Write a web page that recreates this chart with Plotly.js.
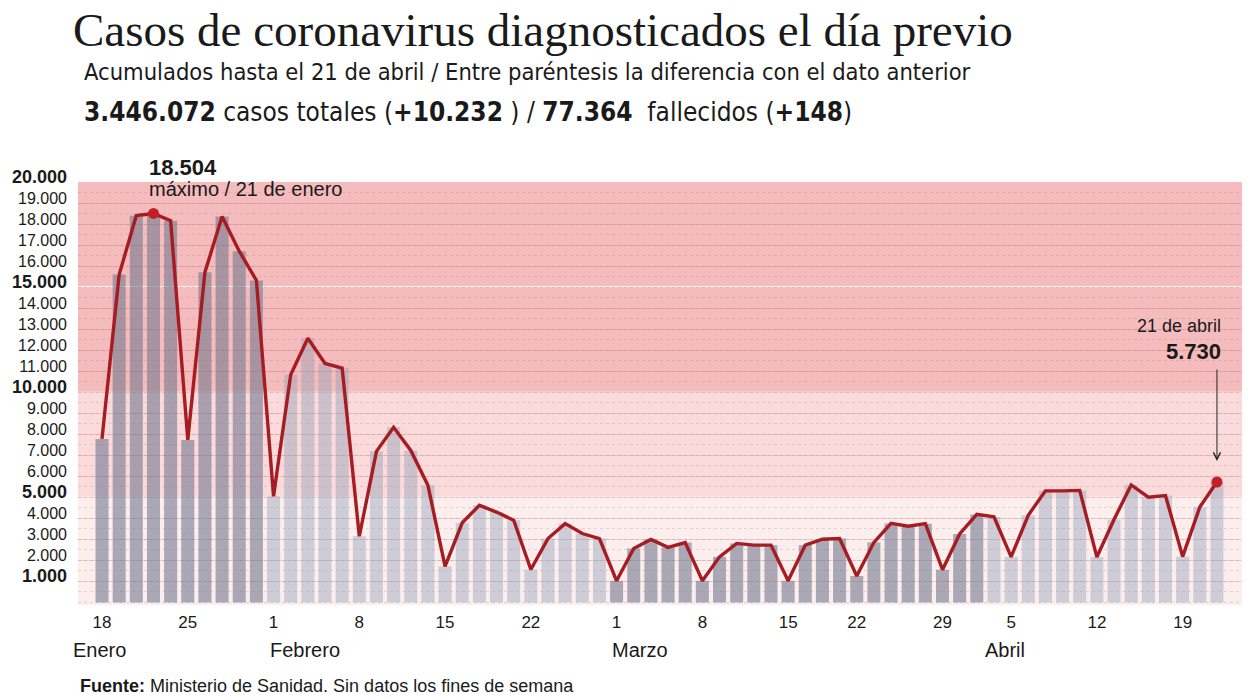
<!DOCTYPE html>
<html>
<head>
<meta charset="utf-8">
<script src="https://cdn.plot.ly/plotly-3.0.1.min.js"></script>
<style>
  html, body { margin: 0; padding: 0; background: #ffffff; }
  #chart { width: 1248px; height: 698px; }
</style>
</head>
<body>
<div id="chart"></div>
<script>
// ---- data (weekdays with data; no data on weekends / some holidays) ----
const monthNames = ['Enero', 'Febrero', 'Marzo', 'Abril'];
const daysJan = [18, 19, 20, 21, 22, 25, 26, 27, 28, 29];
const casesJan = [7780, 15600, 18400, 18504, 18160, 7730, 15710, 18360, 16710, 15320];
const daysFeb = [1, 2, 3, 4, 5, 8, 9, 10, 11, 12, 15, 16, 17, 18, 19, 22, 23, 24, 25, 26];
const casesFeb = [5050, 10830, 12570, 11370, 11150, 3150, 7190, 8330, 7230, 5570, 1720, 3790, 4620, 4300, 3910, 1570, 3040, 3750, 3280, 3040];
const daysMar = [1, 2, 3, 4, 5, 8, 9, 10, 11, 12, 15, 16, 17, 18, 22, 23, 24, 25, 26, 29, 30, 31];
const casesMar = [1030, 2570, 3000, 2620, 2850, 1030, 2170, 2810, 2730, 2730, 1030, 2730, 3010, 3040, 1260, 2860, 3760, 3630, 3750, 1560, 3260, 4190];
const daysApr = [1, 5, 6, 7, 8, 9, 12, 13, 14, 15, 16, 19, 20, 21];
const casesApr = [4070, 2170, 4150, 5310, 5310, 5330, 2160, 3950, 5590, 5010, 5090, 2180, 4540, 5730];

const yTickVals = [1000, 2000, 3000, 4000, 5000, 6000, 7000, 8000, 9000, 10000, 11000, 12000, 13000, 14000, 15000, 16000, 17000, 18000, 19000, 20000];
const yTickLabels = ['1.000', '2.000', '3.000', '4.000', '5.000', '6.000', '7.000', '8.000', '9.000', '10.000', '11.000', '12.000', '13.000', '14.000', '15.000', '16.000', '17.000', '18.000', '19.000', '20.000'];
const yBoldTicks = [1000, 5000, 10000, 15000, 20000];

const titleText = 'Casos de coronavirus diagnosticados el día previo';
const subtitleText = 'Acumulados hasta el 21 de abril / Entre paréntesis la diferencia con el dato anterior';
const totalsText = '<b>3.446.072</b> casos totales (<b>+10.232</b> ) / <b>77.364</b>  fallecidos (<b>+148</b>)';
const sourceText = '<b>Fuente:</b> Ministerio de Sanidad. Sin datos los fines de semana';

// ---- build categories ----
const monthDays = [daysJan, daysFeb, daysMar, daysApr];
const monthCases = [casesJan, casesFeb, casesMar, casesApr];
const cats = [], vals = [], monthIdx = [];
monthDays.forEach((days, m) => {
  days.forEach((d, i) => {
    cats.push(d + '/' + (m + 1));
    vals.push(monthCases[m][i]);
    monthIdx.push(m);
  });
});
// Monday ticks
const tickCats = [], tickText = [];
const weekStarts = [[18, 25], [1, 8, 15, 22], [1, 8, 15, 22, 29], [5, 12, 19]];
weekStarts.forEach((list, m) => {
  list.forEach(d => { tickCats.push(d + '/' + (m + 1)); tickText.push(String(d)); });
});

const barColors = monthIdx.map(m => (m % 2 === 0) ? 'rgba(112,118,142,0.58)' : 'rgba(140,158,180,0.42)');

let maxI = 0;
vals.forEach((v, i) => { if (v > vals[maxI]) maxI = i; });
const lastI = vals.length - 1;

const yTickText = yTickVals.map((v, i) => yBoldTicks.includes(v)
  ? '<span style="font-size:18px"><b>' + yTickLabels[i] + '</b></span>'
  : yTickLabels[i]);

const traces = [
  {
    type: 'bar', x: cats, y: vals,
    marker: {color: barColors, line: {width: 0}},
    hoverinfo: 'skip'
  },
  {
    type: 'scatter', mode: 'lines', x: cats, y: vals,
    line: {color: '#a51d22', width: 3.4, shape: 'linear'},
    hoverinfo: 'skip'
  },
  {
    type: 'scatter', mode: 'markers',
    x: [cats[maxI], cats[lastI]], y: [vals[maxI], vals[lastI]],
    marker: {color: '#c41f26', size: 11},
    hoverinfo: 'skip'
  }
];

const PT = 182, PB = 605, PH = PB - PT;  // plot top / bottom in pixels
const py = p => (PB - p) / PH;           // pixel y -> paper y

const shapes = [
  {type: 'rect', xref: 'paper', yref: 'y', x0: 0, x1: 1, y0: -120, y1: 5000, fillcolor: '#fdeeee', line: {width: 0}, layer: 'below'},
  {type: 'rect', xref: 'paper', yref: 'y', x0: 0, x1: 1, y0: 5000, y1: 10000, fillcolor: '#fadadb', line: {width: 0}, layer: 'below'},
  {type: 'rect', xref: 'paper', yref: 'y', x0: 0, x1: 1, y0: 10000, y1: 20000, fillcolor: '#f5bcbd', line: {width: 0}, layer: 'below'},
  {type: 'line', xref: 'paper', yref: 'y', x0: 0, x1: 1, y0: 15000, y1: 15000, line: {color: '#ffffff', width: 1.5}, layer: 'between'},
  {type: 'line', xref: 'paper', yref: 'y', x0: 0, x1: 1, y0: 10000, y1: 10000, line: {color: '#ffffff', width: 1.2}, layer: 'between'},
  {type: 'line', xref: 'paper', yref: 'y', x0: 0, x1: 1, y0: 5000, y1: 5000, line: {color: '#ffffff', width: 1.2}, layer: 'between'}
];

const sans = 'Liberation Sans, Arial, sans-serif';
const narrow = 'DejaVu Sans Condensed, Liberation Sans Narrow, sans-serif';
const annotations = [
  {xref: 'paper', yref: 'paper', x: 4 / 1164, y: py(72), xanchor: 'left', yanchor: 'middle', showarrow: false,
   text: subtitleText, font: {family: narrow, size: 23.5, color: '#1a1a1a'}},
  {xref: 'paper', yref: 'paper', x: 4 / 1164, y: py(112), xanchor: 'left', yanchor: 'middle', showarrow: false,
   text: totalsText, font: {family: narrow, size: 26, color: '#1a1a1a'}},
  {xref: 'x', yref: 'paper', x: cats[maxI], xshift: -6, y: py(168), xanchor: 'left', yanchor: 'middle', showarrow: false,
   text: '<b>18.504</b>', font: {family: sans, size: 22, color: '#1a1a1a'}},
  {xref: 'x', yref: 'paper', x: cats[maxI], xshift: -6, y: py(189), xanchor: 'left', yanchor: 'middle', showarrow: false,
   text: 'máximo / 21 de enero', font: {family: sans, size: 20, color: '#1a1a1a'}},
  {xref: 'x', yref: 'paper', x: cats[lastI], xshift: 6, y: py(326), xanchor: 'right', yanchor: 'middle', showarrow: false,
   text: '21 de abril', font: {family: sans, size: 18, color: '#1a1a1a'}},
  {xref: 'x', yref: 'paper', x: cats[lastI], xshift: 6, y: py(351), xanchor: 'right', yanchor: 'middle', showarrow: false,
   text: '<b>5.730</b>', font: {family: sans, size: 22, color: '#1a1a1a'}},
  {xref: 'x', yref: 'paper', x: cats[lastI], y: py(461), text: '', showarrow: true,
   ax: 0, ay: -93, arrowhead: 5, arrowsize: 1.4, arrowwidth: 1, arrowcolor: '#222222'},
  {xref: 'paper', yref: 'paper', x: 0, y: py(686), xanchor: 'left', yanchor: 'middle', showarrow: false,
   text: sourceText, font: {family: sans, size: 18, color: '#1a1a1a'}}
];
const monthAnchor = ['18/1', '3/2', '2/3', '5/4'];
const monthShift = [-3, -3, 6, -6];
monthNames.forEach((name, i) => {
  annotations.push({xref: 'x', yref: 'paper', x: monthAnchor[i], xshift: monthShift[i], y: py(650),
    xanchor: 'center', yanchor: 'middle', showarrow: false, text: name,
    font: {family: sans, size: 20, color: '#1a1a1a'}});
});

const layout = {
  width: 1248, height: 698,
  margin: {l: 78, r: 6, t: PT, b: 698 - PB, pad: 0},
  paper_bgcolor: '#ffffff', plot_bgcolor: 'rgba(0,0,0,0)',
  showlegend: false, hovermode: false, bargap: 0.24,
  title: {text: titleText, xref: 'container', yref: 'container', x: 73 / 1248, xanchor: 'left', y: 1 - 30 / 698, yanchor: 'middle',
    font: {family: 'Liberation Serif, Times New Roman, serif', size: 47, color: '#1a1a1a'}},
  xaxis: {type: 'category', range: [-1.4, 66.46], showgrid: false, zeroline: false, showline: false,
    tickmode: 'array', tickvals: tickCats, ticktext: tickText, ticks: '', ticklabelstandoff: 5,
    tickfont: {family: sans, size: 17, color: '#1a1a1a'}, fixedrange: true},
  yaxis: {range: [-120, 20000], showgrid: true, gridcolor: 'rgba(170,100,100,0.22)', gridwidth: 1,
    zeroline: false, showline: false, tickmode: 'array', tickvals: yTickVals, ticktext: yTickText,
    ticks: '', ticklabelstandoff: 10, ticklabelshift: -5,
    tickfont: {family: sans, size: 16, color: '#1a1a1a'},
    minor: {tickmode: 'linear', tick0: 0, dtick: 500, showgrid: true, griddash: 'dot', gridcolor: 'rgba(170,100,100,0.22)', gridwidth: 1},
    fixedrange: true},
  shapes: shapes,
  annotations: annotations
};

Plotly.newPlot('chart', traces, layout, {displayModeBar: false, staticPlot: true});
</script>
</body>
</html>
